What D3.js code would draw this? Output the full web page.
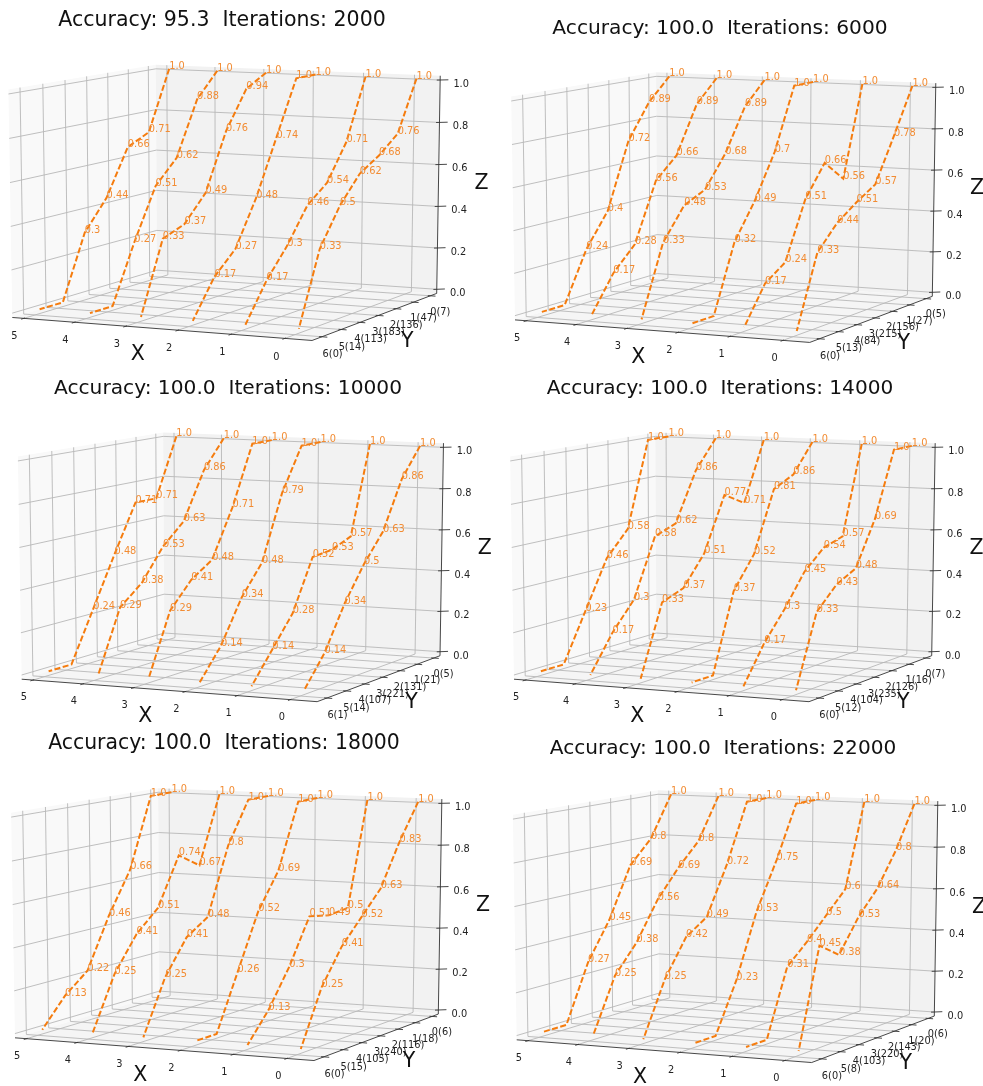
<!DOCTYPE html>
<html>
<head>
<meta charset="utf-8">
<script src="https://cdnjs.cloudflare.com/ajax/libs/d3/7.8.5/d3.min.js"></script>
<style>
  html, body { margin: 0; background: #fff; }
  svg { display: block; filter: blur(0.45px); }
  text { font-family: "DejaVu Sans", sans-serif; white-space: pre; }
</style>
</head>
<body>
<svg id="mysvg"></svg>
<script>
const w = 983, h = 1086;

const xTicks = [0, 1, 2, 3, 4, 5];
const zTicks = [0, 0.2, 0.4, 0.6, 0.8, 1.0];

const accuracy = ["95.3", "100.0", "100.0", "100.0", "100.0", "100.0"];
const iterations = [2000, 6000, 10000, 14000, 18000, 22000];

// sample counts shown next to the y ticks, y = 0..6
const counts1 = [7, 47, 136, 183, 113, 14, 0];
const counts2 = [5, 27, 156, 215, 84, 13, 0];
const counts3 = [5, 21, 131, 221, 107, 14, 1];
const counts4 = [7, 16, 126, 235, 104, 12, 0];
const counts5 = [6, 18, 116, 240, 105, 15, 0];
const counts6 = [6, 20, 143, 220, 103, 8, 0];

// one row per x = 0..5, each row is z for y = 0..6
const curves1 = [
    [1.0, 0.76, 0.68, 0.62, 0.5, 0.33, 0],
    [1.0, 0.71, 0.54, 0.46, 0.3, 0.17, 0],
    [1.0, 1.0, 0.74, 0.48, 0.27, 0.17, 0],
    [1.0, 0.94, 0.76, 0.49, 0.37, 0.33, 0],
    [1.0, 0.88, 0.62, 0.51, 0.27, 0, 0],
    [1.0, 0.71, 0.66, 0.44, 0.3, 0, 0]
];
const curves2 = [
    [1.0, 0.78, 0.57, 0.51, 0.44, 0.33, 0],
    [1.0, 0.56, 0.66, 0.51, 0.24, 0.17, 0],
    [1.0, 1.0, 0.7, 0.49, 0.32, 0, 0],
    [1.0, 0.89, 0.68, 0.53, 0.48, 0.33, 0],
    [1.0, 0.89, 0.66, 0.56, 0.28, 0.17, 0],
    [1.0, 0.89, 0.72, 0.4, 0.24, 0, 0]
];
const curves3 = [
    [1.0, 0.86, 0.63, 0.5, 0.34, 0.14, 0],
    [1.0, 0.57, 0.53, 0.52, 0.28, 0.14, 0],
    [1.0, 1.0, 0.79, 0.48, 0.34, 0.14, 0],
    [1.0, 1.0, 0.71, 0.48, 0.41, 0.29, 0],
    [1.0, 0.86, 0.63, 0.53, 0.38, 0.29, 0],
    [1.0, 0.71, 0.71, 0.48, 0.24, 0, 0]
];
const curves4 = [
    [1.0, 1.0, 0.69, 0.48, 0.43, 0.33, 0],
    [1.0, 0.57, 0.54, 0.45, 0.3, 0.17, 0],
    [1.0, 0.86, 0.81, 0.52, 0.37, 0, 0],
    [1.0, 0.71, 0.77, 0.51, 0.37, 0.33, 0],
    [1.0, 0.86, 0.62, 0.58, 0.3, 0.17, 0],
    [1.0, 1.0, 0.58, 0.46, 0.23, 0, 0]
];
const curves5 = [
    [1.0, 0.83, 0.63, 0.52, 0.41, 0.25, 0],
    [1.0, 0.5, 0.49, 0.51, 0.3, 0.13, 0],
    [1.0, 1.0, 0.69, 0.52, 0.26, 0, 0],
    [1.0, 1.0, 0.8, 0.48, 0.41, 0.25, 0],
    [1.0, 0.67, 0.74, 0.51, 0.41, 0.25, 0],
    [1.0, 1.0, 0.66, 0.46, 0.22, 0.13, 0]
];
const curves6 = [
    [1.0, 0.8, 0.64, 0.53, 0.38, 0.45, 0],
    [1.0, 0.6, 0.5, 0.4, 0.31, 0, 0],
    [1.0, 1.0, 0.75, 0.53, 0.23, 0, 0],
    [1.0, 1.0, 0.72, 0.49, 0.42, 0.25, 0],
    [1.0, 0.8, 0.69, 0.56, 0.38, 0.25, 0],
    [1.0, 0.8, 0.69, 0.45, 0.27, 0, 0]
];

const allCounts = [counts1, counts2, counts3, counts4, counts5, counts6];
const allCurves = [curves1, curves2, curves3, curves4, curves5, curves6];

// where each screenshot sits on the page: left corner, right corner,
// pixel row of z=0 and z=1 on the z axis, title centre
const panelLeft = [12.3, 515, 21.7, 514, 15, 516.7];
const panelRight = [436.7, 932.3, 440, 931.7, 438.3, 934.3];
const panelBase = [289.3, 292.3, 651.7, 651.7, 1010, 1012];
const panelTop = [80, 87.3, 447.3, 447.3, 803.3, 805.3];
const titleX = [222, 720, 228, 720, 224, 723];
const titleY = [26, 34, 394, 394, 749, 754];
const titleSize = [20.5, 20.2, 20.2, 20.1, 20.4, 20.1];

// box limits and camera
const xLim = [-0.5, 5.23], yLim = [-0.38, 6.5], zLim = [-0.02, 1.02];
const yDataShift = -0.5, yDataStep = 1.05;
const elev = 10 * Math.PI / 180, azim = 115 * Math.PI / 180, dist = 10;

const lineColor = "#f57c0e", labelColor = "#f28c33";

function camera() {
    const n = [Math.cos(elev) * Math.cos(azim), Math.cos(elev) * Math.sin(azim), Math.sin(elev)];
    const len = Math.hypot(n[1], n[0]);
    const u = [-n[1] / len, n[0] / len, 0];
    const v = [n[1] * u[2] - n[2] * u[1], n[2] * u[0] - n[0] * u[2], n[0] * u[1] - n[1] * u[0]];
    return {n, u, v};
}
const cam = camera();

function project(x, y, z) {
    const p = [
        (x - xLim[0]) / (xLim[1] - xLim[0]) - 0.5,
        (y - yLim[0]) / (yLim[1] - yLim[0]) - 0.5,
        (z - zLim[0]) / (zLim[1] - zLim[0]) - 0.5
    ];
    const dot = a => a[0] * p[0] + a[1] * p[1] + a[2] * p[2];
    const depth = dist - dot(cam.n);
    return [dot(cam.u) / depth, dot(cam.v) / depth];
}

const svg = d3.select("#mysvg")
    .attr("width", w)
    .attr("height", h);

allCurves.forEach((curves, i) => drawPanel(i, curves, allCounts[i]));

function drawPanel(i, curves, counts) {
    const g = svg.append("g");

    const uScale = d3.scaleLinear()
        .domain([project(xLim[1], yLim[1], zLim[0])[0], project(xLim[0], yLim[0], zLim[0])[0]])
        .range([panelLeft[i], panelRight[i]]);
    const vScale = d3.scaleLinear()
        .domain([project(xLim[0], yLim[0], 0)[1], project(xLim[0], yLim[0], 1)[1]])
        .range([panelBase[i], panelTop[i]]);

    const pt = (x, y, z) => {
        const p = project(x, y, z);
        return [uScale(p[0]), vScale(p[1])];
    };
    const path = d3.line();

    const [x0, x1] = xLim, [y0, y1] = yLim, [z0, z1] = zLim;

    // panes
    const panes = [
        {fill: "#f9f9f9", c: [[x1, y1, z0], [x1, y0, z0], [x1, y0, z1], [x1, y1, z1]]},
        {fill: "#f2f2f2", c: [[x1, y0, z0], [x0, y0, z0], [x0, y0, z1], [x1, y0, z1]]},
        {fill: "#f5f5f5", c: [[x0, y1, z0], [x1, y1, z0], [x1, y0, z0], [x0, y0, z0]]}
    ];
    g.selectAll(".pane")
        .data(panes)
        .enter().append("path")
        .attr("class", "pane")
        .attr("fill", d => d.fill)
        .attr("d", d => path(d.c.map(c => pt(...c))) + "Z");

    // grid
    const gridLine = pts => g.append("path")
        .attr("fill", "none")
        .attr("stroke", "#b8b8b8")
        .attr("stroke-width", 0.9)
        .attr("d", path(pts.map(c => pt(...c))));

    xTicks.forEach(x => gridLine([[x, y1, z0], [x, y0, z0], [x, y0, z1]]));
    counts.forEach((c, y) => gridLine([[x0, y, z0], [x1, y, z0], [x1, y, z1]]));
    zTicks.forEach(z => gridLine([[x1, y1, z], [x1, y0, z], [x0, y0, z]]));

    // axis lines and tick marks
    const axisLine = pts => g.append("path")
        .attr("fill", "none")
        .attr("stroke", "#333")
        .attr("stroke-width", 0.9)
        .attr("d", path(pts.map(c => pt(...c))));

    axisLine([[x1, y1, z0], [x0, y1, z0], [x0, y0, z0]]);
    axisLine([[x0, y0, z0], [x0, y0, z1]]);
    xTicks.forEach(x => axisLine([[x, y1 - 0.05, z0], [x, y1 + 0.12, z0]]));
    counts.forEach((c, y) => axisLine([[x0 + 0.05, y, z0], [x0 - 0.1, y, z0]]));
    zTicks.forEach(z => axisLine([[x0 + 0.05, y0 + 0.05, z], [x0 - 0.12, y0 - 0.12, z]]));

    // tick labels
    const tickLabel = (c, text) => {
        const p = pt(...c);
        g.append("text")
            .attr("x", p[0])
            .attr("y", p[1])
            .attr("dy", "0.35em")
            .attr("text-anchor", "middle")
            .attr("font-size", 9.8)
            .attr("fill", "#222")
            .text(text);
    };
    xTicks.forEach(x => tickLabel([x, y1 + 0.42, z0 - 0.065], x));
    counts.forEach((c, y) => tickLabel([x0 - 0.2, y, z0 - 0.072], y + "(" + c + ")"));
    zTicks.forEach(z => {
        const p = pt(x0, y0, z);
        g.append("text")
            .attr("x", p[0] + 21)
            .attr("y", p[1] + 3.5)
            .attr("dy", "0.35em")
            .attr("text-anchor", "middle")
            .attr("font-size", 9.8)
            .attr("fill", "#222")
            .text(d3.format(".1f")(z));
    });

    // axis titles
    const axisTitle = (c, dx, dy, text) => {
        const p = pt(...c);
        g.append("text")
            .attr("x", p[0] + dx)
            .attr("y", p[1] + dy)
            .attr("dy", "0.35em")
            .attr("text-anchor", "middle")
            .attr("font-size", 20.5)
            .attr("fill", "#111")
            .text(text);
    };
    axisTitle([2.5, y1, z0], -14, 25, "X");
    axisTitle([x0, 3, z0], 29, 24, "Y");
    axisTitle([x0, y0, 0.5], 43, -4, "Z");

    // curves
    const curveLine = d3.line()
        .x(d => d.p[0])
        .y(d => d.p[1]);

    curves.forEach((row, x) => {
        const pts = row.map((z, y) => ({z, p: pt(x, y * yDataStep + yDataShift, z)}));
        g.append("path")
            .datum(pts)
            .attr("fill", "none")
            .attr("stroke", lineColor)
            .attr("stroke-width", 2)
            .attr("stroke-dasharray", "6,2.5")
            .attr("d", curveLine);
        g.selectAll(".val" + x)
            .data(pts.filter(d => d.z > 0))
            .enter().append("text")
            .attr("class", "val" + x)
            .attr("x", d => d.p[0])
            .attr("y", d => d.p[1])
            .attr("font-size", 9.8)
            .attr("fill", labelColor)
            .text(d => d.z === 1 ? "1.0" : d.z);
    });

    g.append("text")
        .attr("x", titleX[i])
        .attr("y", titleY[i])
        .attr("text-anchor", "middle")
        .attr("font-size", titleSize[i])
        .attr("fill", "#111")
        .text("Accuracy: " + accuracy[i] + "  Iterations: " + iterations[i]);
}
</script>
</body>
</html>
